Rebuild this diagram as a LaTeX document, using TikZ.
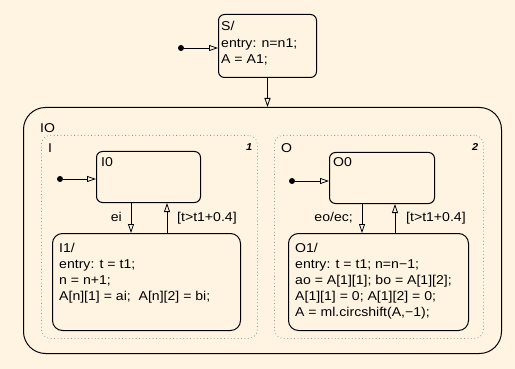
\documentclass[tikz,border=0pt]{standalone}
\usepackage{fontspec}
\setmainfont{Liberation Sans}[FakeStretch=1.1]
\usetikzlibrary{arrows.meta}
\definecolor{bg}{RGB}{255,244,225}
\definecolor{dotgray}{RGB}{150,150,150}
\begin{document}
\begin{tikzpicture}[x=1pt,y=-1pt,
  st/.style={draw, line width=1pt, rounded corners=6pt, inner sep=0pt, anchor=north west},
  reg/.style={draw=dotgray, line width=0.8pt, dash pattern=on 0.8pt off 2.6pt, rounded corners=9pt, inner sep=0pt, anchor=north west},
  tx/.style={anchor=base west, inner sep=0pt, font=\fontsize{12.8}{16}\selectfont},
  txe/.style={anchor=base east, inner sep=0pt, font=\fontsize{12.8}{16}\selectfont},
  num/.style={anchor=base west, inner sep=0pt, font=\fontsize{10}{12}\selectfont\bfseries\itshape},
  tr/.style={line width=0.8pt, -{Triangle[open,length=9pt,width=6pt,line width=0.8pt]}},
  dotn/.style={circle, fill, inner sep=0pt, minimum size=6pt}]
\fill[bg] (0,0) rectangle (515,369);
\useasboundingbox (0,0) rectangle (515,369);

% top state S
\node[st, minimum width=98pt, minimum height=63pt] (S) at (218,14) {};
\node[tx] (St1) at (221,31) {S/};
\node[tx] (St2) at (221,48) {entry: n=n1;};
\node[tx] (St3) at (221,64) {A = A1;};
\node[dotn] (Sd) at (181,48) {};
\draw[tr] (Sd) -- (Sd -| S.west);

% superstate IO
\node[st, rounded corners=22pt, minimum width=478pt, minimum height=246pt] (IO) at (23,107) {};
\node[tx] (IOl) at (40,132) {IO};
\draw[tr] (S.south) -- (S.south |- IO.north);

% parallel regions
\node[reg, minimum width=216pt, minimum height=203pt] (I) at (41,135) {};
\node[tx] (Il) at (48,153) {I};
\node[num] (In) at (246,150) {1};
\node[reg, minimum width=209pt, minimum height=203pt] (O) at (274,135) {};
\node[tx] (Ol) at (281,153) {O};
\node[num] (On) at (472,151) {2};

% region I
\node[st, minimum width=104pt, minimum height=51pt] (I0) at (96,151) {};
\node[tx] (I0l) at (101,167) {I0};
\node[dotn] (Id) at (60,179) {};
\draw[tr] (Id) -- (Id -| I0.west);
\node[st, rounded corners=10pt, minimum width=188pt, minimum height=97pt] (I1) at (52,233) {};
\node[tx] (I1a) at (59,252) {I1/};
\node[tx] (I1b) at (59,268) {entry: t = t1;};
\node[tx] (I1c) at (59,284) {n = n+1;};
\node[tx] (I1d) at (59,300) {A[n][1] = ai;\ \ A[n][2] = bi;};
\draw[tr] ([xshift=35pt]I0.south west) -- ([xshift=35pt]I0.south west |- I1.north);
\draw[tr] ([xshift=71pt]I0.south west |- I1.north) -- ([xshift=71pt]I0.south west);
\node[txe] (ei) at (122,222) {ei};
\node[tx] (Ig) at (177,222) {[t>t1+0.4]};

% region O
\node[st, minimum width=105pt, minimum height=51pt] (O0) at (329,152) {};
\node[tx] (O0l) at (333,167) {O0};
\node[dotn] (Od) at (292,181) {};
\draw[tr] (Od) -- (Od -| O0.west);
\node[st, rounded corners=10pt, minimum width=180pt, minimum height=97pt] (O1) at (288,233) {};
\node[tx] (O1a) at (295,252) {O1/};
\node[tx] (O1b) at (295,268) {entry: t = t1; n=n−1;};
\node[tx] (O1c) at (295,284) {ao = A[1][1]; bo = A[1][2];};
\node[tx] (O1d) at (295,300) {A[1][1] = 0; A[1][2] = 0;};
\node[tx] (O1e) at (295,316) {A = ml.circshift(A,−1);};
\draw[tr] ([xshift=33pt]O0.south west) -- ([xshift=33pt]O0.south west |- O1.north);
\draw[tr] ([xshift=66pt]O0.south west |- O1.north) -- ([xshift=66pt]O0.south west);
\node[txe] (eo) at (353,222) {eo/ec;};
\node[tx] (Og) at (406,222) {[t>t1+0.4]};
\end{tikzpicture}
\end{document}
